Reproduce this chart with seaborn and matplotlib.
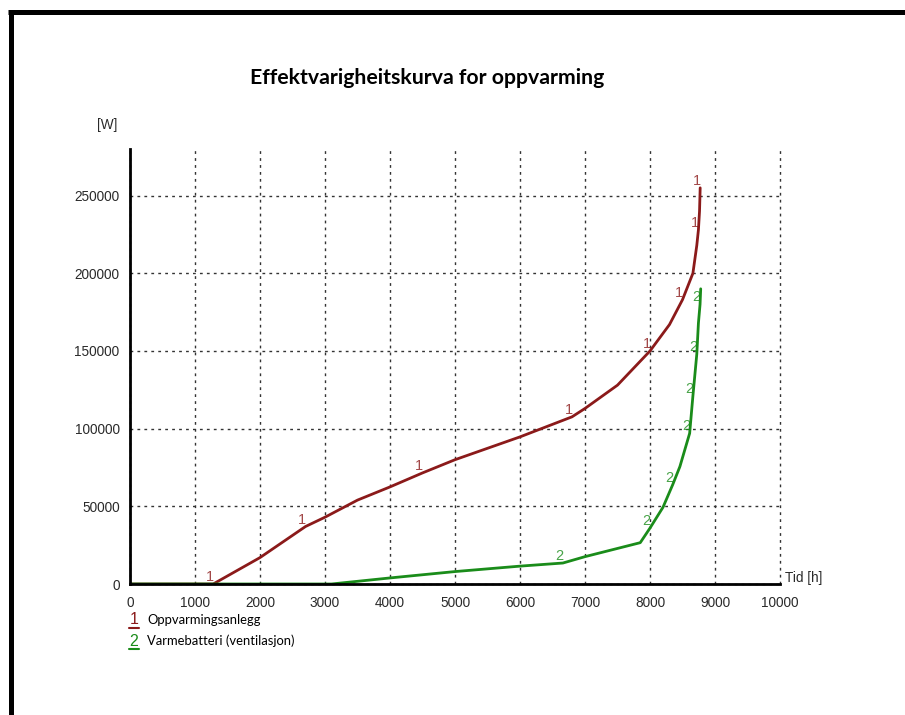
import matplotlib
matplotlib.use("Agg")
import matplotlib.pyplot as plt
from matplotlib.lines import Line2D
import seaborn as sns
import pandas as pd

# ---- data ----
title = "Effektvarigheitskurva for oppvarming"
series_names = ["Oppvarmingsanlegg", "Varmebatteri (ventilasjon)"]
series_marks = ["1", "2"]
series_colors = ["#8b1a1a", "#1a8c1a"]

red_x = [0, 1280, 2000, 2700, 3000, 3500, 4000, 4500, 5000, 6000, 6800, 7000,
         7500, 8000, 8300, 8500, 8660, 8720, 8745, 8762, 8772]
red_y = [0, 0, 17000, 37000, 43000, 54000, 62500, 71500, 80000, 94700, 107600, 113000,
         128000, 150000, 167000, 183000, 200000, 218000, 228000, 240000, 255000]
red_label_idx = [1, 3, 7, 10, 13, 15, 18, 20]

green_x = [0, 3100, 4000, 5000, 6000, 6660, 7000, 7850, 8000, 8200, 8350, 8460,
           8610, 8660, 8720, 8745, 8770, 8780]
green_y = [0, 0, 3900, 8000, 11500, 13500, 17600, 26600, 36000, 49400, 64000, 75600,
           97000, 121000, 148000, 168000, 180000, 190000]
green_label_idx = [5, 8, 10, 12, 13, 14, 16]

x_ticks = [0, 1000, 2000, 3000, 4000, 5000, 6000, 7000, 8000, 9000, 10000]
y_ticks = [0, 50000, 100000, 150000, 200000, 250000]
x_unit = "Tid [h]"
y_unit = "[W]"

# ---- figure ----
sns.set_style("white")
plt.rcParams['font.family'] = ['Liberation Sans', 'DejaVu Sans']

fig = plt.figure(figsize=(9.05, 7.15), dpi=100)
W, H = 905, 715
ax = fig.add_axes([130 / W, 1 - 584 / H, 650 / W, 435 / H])

df1 = pd.DataFrame({"x": red_x, "y": red_y})
df2 = pd.DataFrame({"x": green_x, "y": green_y})
sns.lineplot(data=df1, x="x", y="y", color=series_colors[0], linewidth=2,
             estimator=None, sort=False, ax=ax, zorder=3)
sns.lineplot(data=df2, x="x", y="y", color=series_colors[1], linewidth=2,
             estimator=None, sort=False, ax=ax, zorder=4)

for xs, ys, idxs, mark, col in [(red_x, red_y, red_label_idx, series_marks[0], series_colors[0]),
                                (green_x, green_y, green_label_idx, series_marks[1], series_colors[1])]:
    for i in idxs:
        ax.annotate(mark, (xs[i], ys[i]), xytext=(-2.5, 5), textcoords="offset points",
                    ha="center", va="center", color=col, alpha=0.8, fontsize=10.5,
                    zorder=5)

ax.set_xlim(0, 10000)
ax.set_ylim(0, 280000)
ax.set_xticks(x_ticks)
ax.set_yticks(y_ticks)
ax.set_xticklabels([str(t) for t in x_ticks])
ax.set_yticklabels([str(t) for t in y_ticks])
ax.set_xlabel("")
ax.set_ylabel("")
ax.grid(True, linestyle=(0, (2, 3)), color="#333333", linewidth=1)
for gl in ax.get_xgridlines() + ax.get_ygridlines():
    gl.set_clip_on(False)
for s in ["top", "right"]:
    ax.spines[s].set_visible(False)
for s in ["left", "bottom"]:
    ax.spines[s].set_color("black")
    ax.spines[s].set_linewidth(2)
    ax.spines[s].set_zorder(6)
ax.tick_params(axis="both", direction="inout", length=9, width=2, color="black",
               labelsize=9.8, labelcolor="#2a2a2a")
ax.tick_params(axis="x", pad=4)
ax.tick_params(axis="y", pad=3)

fig.text(107 / W, 1 - 125 / H, y_unit, ha="center", va="center", fontsize=9.8, color="#2a2a2a")
fig.text(785 / W, 1 - 578 / H, x_unit, ha="left", va="center", fontsize=9.8, color="#2a2a2a")

fig.text(427 / W, 1 - 78 / H, title, ha="center", va="center", fontsize=15.3,
         fontweight="bold", family=["Lato", "DejaVu Sans"], color="black")

# legend
for k, (name, mark, col) in enumerate(zip(series_names, series_marks, series_colors)):
    yy = 1 - (620 + 21 * k) / H
    fig.text(134 / W, yy, mark, ha="center", va="center", fontsize=11.5, color=col)
    fig.add_artist(Line2D([129 / W, 139 / W], [yy - 8 / H, yy - 8 / H], color=col, linewidth=1.5))
    fig.text(147 / W, yy, name, ha="left", va="center", fontsize=9.4,
             family=["Lato", "DejaVu Sans"], color="black")

# frame
fig.add_artist(Line2D([8 / W, 1], [1 - 12 / H, 1 - 12 / H], color="black", linewidth=3.6,
                      solid_capstyle="butt"))
fig.add_artist(Line2D([11 / W, 11 / W], [0, 1 - 10 / H], color="black", linewidth=3.6,
                      solid_capstyle="butt"))

fig.savefig("out.png", dpi=100)
